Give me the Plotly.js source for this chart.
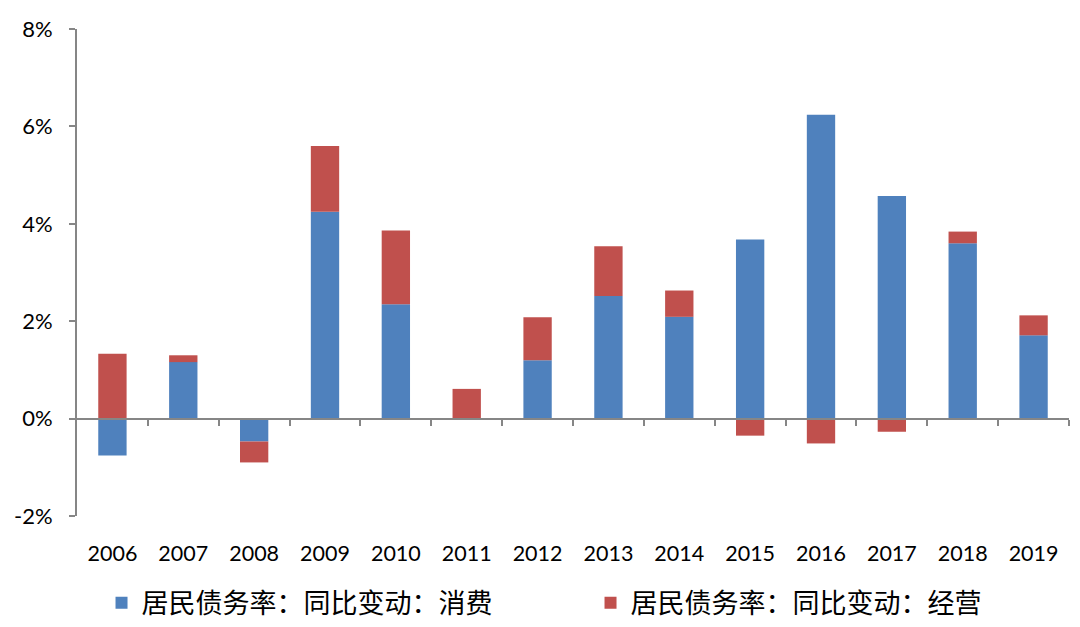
<!DOCTYPE html>
<html>
<head>
<meta charset="utf-8">
<script src="https://cdn.plot.ly/plotly-3.0.1.min.js"></script>
<style>html,body{margin:0;padding:0;background:#fff;}#chart{width:1080px;height:627px;}</style>
</head>
<body>
<div id="chart"></div>
<script>
var years = ["2006","2007","2008","2009","2010","2011","2012","2013","2014","2015","2016","2017","2018","2019"];
var consumption = [-0.76, 1.16, -0.47, 4.25, 2.35, 0.00, 1.20, 2.52, 2.09, 3.68, 6.24, 4.57, 3.60, 1.71];
var business = [1.33, 0.14, -0.43, 1.35, 1.51, 0.61, 0.88, 1.02, 0.54, -0.35, -0.51, -0.27, 0.24, 0.41];
var seriesNames = ["居民债务率：同比变动：消费", "居民债务率：同比变动：经营"];
var yTicks = [-2, 0, 2, 4, 6, 8];
var yTickText = ["-2%", "0%", "2%", "4%", "6%", "8%"];
var boundaryTicks = [0.5, 1.5, 2.5, 3.5, 4.5, 5.5, 6.5, 7.5, 8.5, 9.5, 10.5, 11.5, 12.5, 13.5];

var numFont = "Lato, 'Liberation Sans', sans-serif";
var cjkFont = "'Noto Sans CJK SC', sans-serif";
var axisGray = "#868686";

var traces = [
  {type: "bar", name: seriesNames[0], x: years, y: consumption, marker: {color: "#4F81BD"}},
  {type: "bar", name: seriesNames[1], x: years, y: business, marker: {color: "#C0504D"}},
  {type: "scatter", x: [], y: [], xaxis: "x2", yaxis: "y", showlegend: false, hoverinfo: "skip"}
];

var layout = {
  width: 1080, height: 627,
  margin: {l: 77, r: 11, t: 29, b: 111, autoexpand: false},
  paper_bgcolor: "#fff", plot_bgcolor: "#fff",
  barmode: "relative",
  bargap: 0.6,
  font: {family: numFont, size: 21.5, color: "#000"},
  xaxis: {
    type: "category", range: [-0.5, 13.5],
    showline: false, ticks: "", showgrid: false, zeroline: false,
    tickfont: {family: numFont, size: 21.5, color: "#000"},
    ticklabelstandoff: 22
  },
  xaxis2: {
    overlaying: "x", anchor: "free", position: 0.2, side: "bottom",
    type: "linear", range: [-0.5, 13.5],
    showline: true, linecolor: axisGray, linewidth: 2,
    ticks: "outside", ticklen: 6, tickwidth: 2, tickcolor: axisGray,
    tickvals: boundaryTicks, showticklabels: false,
    showgrid: false, zeroline: false
  },
  yaxis: {
    range: [-2, 8], tickvals: yTicks, ticktext: yTickText,
    showline: true, linecolor: axisGray, linewidth: 2,
    ticks: "outside", ticklen: 6, tickwidth: 2, tickcolor: axisGray,
    showgrid: false, zeroline: false, ticklabelstandoff: 12,
    tickfont: {family: numFont, size: 22, color: "#000"}
  },
  showlegend: true,
  legend: {
    orientation: "h", xref: "container", yref: "container",
    x: 0.094, xanchor: "left", y: 0.038, yanchor: "middle",
    font: {family: cjkFont, size: 27, color: "#000"},
    traceorder: "normal", entrywidth: 444, entrywidthmode: "pixels",
    itemwidth: 30, bgcolor: "rgba(0,0,0,0)"
  }
};

Plotly.newPlot("chart", traces, layout, {displayModeBar: false, staticPlot: true});
</script>
</body>
</html>
